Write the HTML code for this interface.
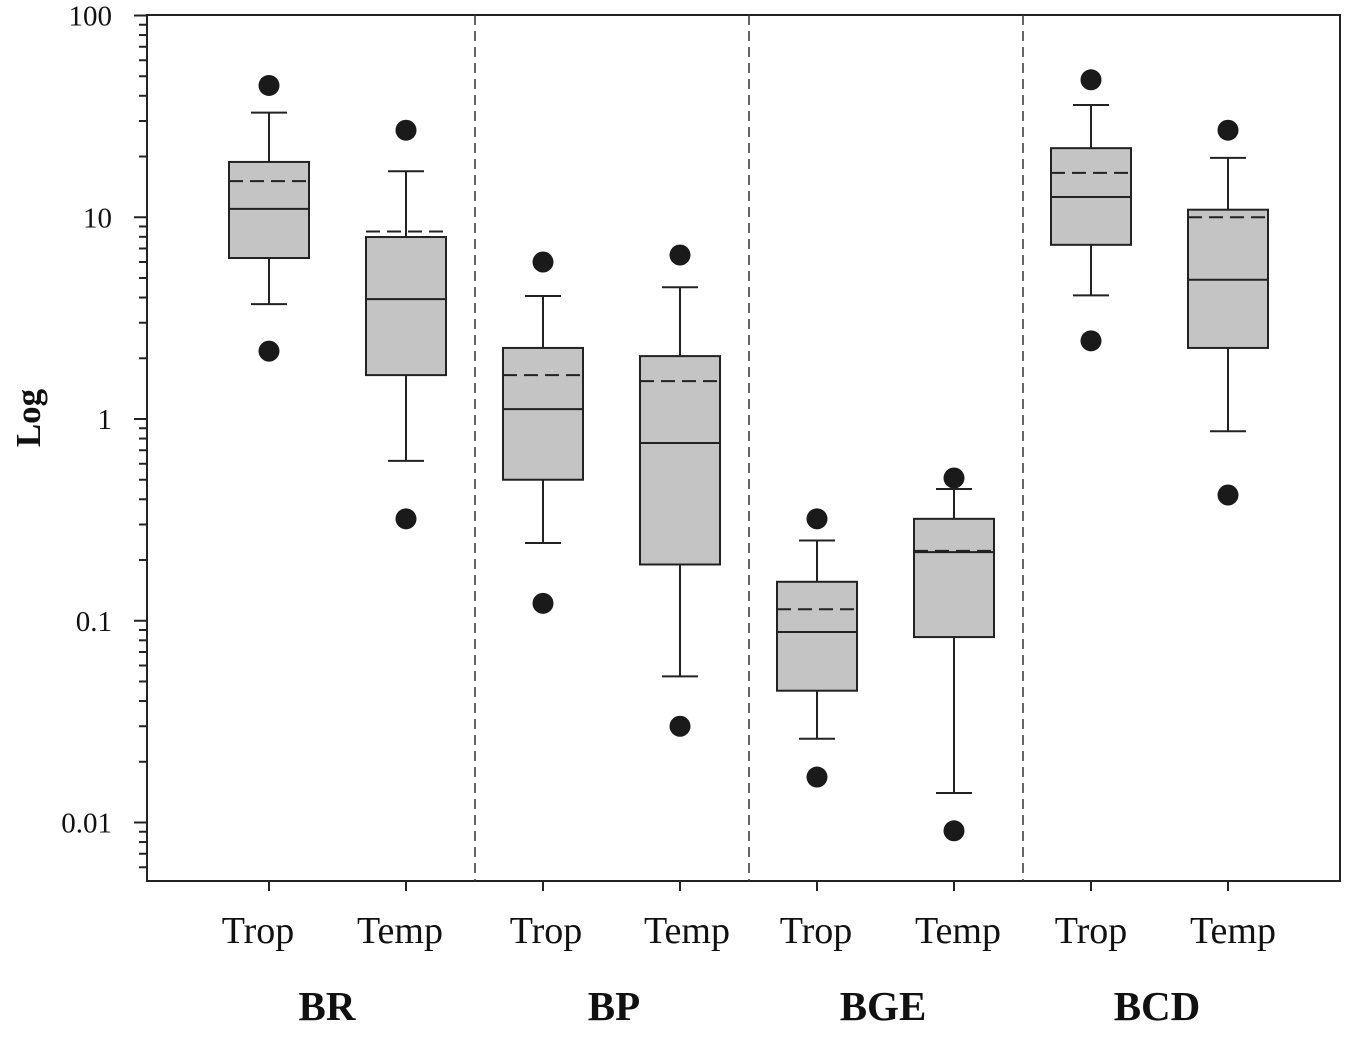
<!DOCTYPE html>
<html><head><meta charset="utf-8"><style>
html,body{margin:0;padding:0;background:#fff;}
svg{display:block;font-family:"Liberation Serif",serif;}
</style></head><body>
<svg id="chart" width="1358" height="1038" viewBox="0 0 1358 1038">
<g id="plot"></g>
</svg>
<script>
const groups = ["BR","BP","BGE","BCD"];
const categories = ["Trop","Temp","Trop","Temp","Trop","Temp","Trop","Temp"];
const whiskLow = [3.71,0.62,0.243,0.053,0.026,0.014,4.1,0.87];
const q1 = [6.28,1.65,0.5,0.19,0.045,0.083,7.3,2.25];
const medians = [11,3.93,1.12,0.76,0.088,0.219,12.6,4.9];
const means = [15.1,8.5,1.65,1.54,0.114,0.222,16.6,10];
const q3 = [18.8,7.98,2.25,2.05,0.156,0.32,22,10.9];
const whiskHigh = [33,16.9,4.07,4.5,0.25,0.45,36,19.7];
const outLow = [2.17,0.32,0.122,0.030,0.0168,0.0091,2.44,0.42];
const outHigh = [45,27,6.0,6.5,0.32,0.51,48,27];
const yTicks = [0.01,0.1,1,10,100];
const yTickLabels = ["0.01","0.1","1","10","100"];

const NS="http://www.w3.org/2000/svg";
const g=document.getElementById('plot');
const L=147,R=1340,T=15,B=881;
const dec=201.75;
const y=v=>419-Math.log10(v)*dec;
const xc=i=>269+i*137;
const labelShift=[-11,-6,3,7,-1,4,0,5];
function el(tag,attrs,parent){const e=document.createElementNS(NS,tag);for(const k in attrs)e.setAttribute(k,attrs[k]);(parent||g).appendChild(e);return e;}

const frame=el('rect',{x:L,y:T,width:R-L,height:B-T,fill:'none',stroke:'#222','stroke-width':2});



for(let e=-3;e<=1;e++){
  for(let m=1;m<10;m++){
    const v=m*Math.pow(10,e);
    const yy=y(v);
    if(yy>B||yy<T-1)continue;
    const t=el('line',{x1:m===1?134:139,x2:L,y1:yy,y2:yy,stroke:'#222','stroke-width':2});
    
    
  }
}
const t100=el('line',{x1:134,x2:L,y1:y(100),y2:y(100),stroke:'#222','stroke-width':2});


yTicks.forEach((v,i)=>{
  const tx=el('text',{x:112,y:y(v)+10,'text-anchor':'end','font-size':29,fill:'#111'});
  tx.textContent=yTickLabels[i];
  
  
});
const yt=el('text',{x:0,y:0,transform:'translate(40,418) rotate(-90)','text-anchor':'middle','font-size':35,'font-weight':'bold',fill:'#111'});
yt.textContent='Log';



[475,749,1023].forEach(sx=>{
  const s=el('line',{x1:sx,x2:sx,y1:T,y2:B,stroke:'#333','stroke-width':1.5,'stroke-dasharray':'10,6'});
  
  
});

categories.forEach((c,i)=>{
  const x=xc(i), hw=40, cw=18;
  const bg=el('g',{});
  
  
  const st={stroke:'#222','stroke-width':2};
  el('line',Object.assign({x1:x,x2:x,y1:y(whiskHigh[i]),y2:y(q3[i])},st),bg);
  el('line',Object.assign({x1:x,x2:x,y1:y(q1[i]),y2:y(whiskLow[i])},st),bg);
  el('line',Object.assign({x1:x-cw,x2:x+cw,y1:y(whiskHigh[i]),y2:y(whiskHigh[i])},st),bg);
  el('line',Object.assign({x1:x-cw,x2:x+cw,y1:y(whiskLow[i]),y2:y(whiskLow[i])},st),bg);
  el('rect',{x:x-hw,y:y(q3[i]),width:2*hw,height:y(q1[i])-y(q3[i]),fill:'#c4c4c4',stroke:'#222','stroke-width':2},bg);
  el('line',Object.assign({x1:x-hw,x2:x+hw,y1:y(medians[i]),y2:y(medians[i])},st),bg);
  el('line',{x1:x-hw,x2:x+hw,y1:y(means[i]),y2:y(means[i]),stroke:'#222','stroke-width':2,'stroke-dasharray':'14,7'},bg);
  el('circle',{cx:x,cy:y(outHigh[i]),r:10.5,fill:'#1a1a1a'},bg);
  el('circle',{cx:x,cy:y(outLow[i]),r:10.5,fill:'#1a1a1a'},bg);
  const tk=el('line',{x1:x,x2:x,y1:B,y2:B+10,stroke:'#222','stroke-width':2});
  
  
  const lb=el('text',{x:x+labelShift[i],y:943,'text-anchor':'middle','font-size':38,fill:'#111'});
  lb.textContent=c;
  
  
});
const groupCenters=[327,614,883,1157];
groups.forEach((gn,j)=>{
  const t=el('text',{x:groupCenters[j],y:1020,'text-anchor':'middle','font-size':41,'font-weight':'bold',fill:'#111'});
  t.textContent=gn;
  
  
});
</script>
</body></html>
